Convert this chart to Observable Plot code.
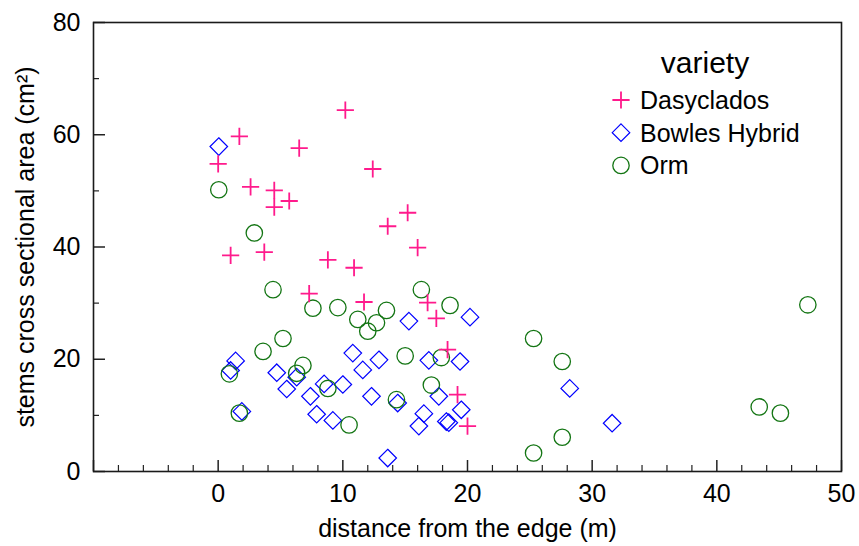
<!DOCTYPE html>
<html><head><meta charset="utf-8">
<script src="https://cdn.jsdelivr.net/npm/d3@7"></script>
<script src="https://cdn.jsdelivr.net/npm/@observablehq/plot@0.6"></script>
<style>
html,body{margin:0;padding:0;background:#fff;}
#wrap{position:relative;width:859px;height:546px;}
#wrap svg{display:block;}
</style></head><body><div id="wrap"></div>
<script>
const varieties = ["Dasyclados", "Bowles Hybrid", "Orm"];

const dasyX = [0.0, 1.7, 1.0, 2.6, 3.7, 4.5, 4.5, 5.7, 6.5, 10.2, 12.4, 7.3, 8.8, 10.9, 11.7, 13.6, 15.2, 16.0, 16.8, 17.5, 18.4, 19.2, 20.0];
const dasyY = [54.8, 59.7, 38.5, 50.7, 39.1, 50.1, 47.1, 48.2, 57.6, 64.4, 53.9, 31.7, 37.7, 36.3, 30.2, 43.7, 46.1, 39.9, 30.1, 27.3, 21.7, 13.7, 8.1];

const bowlesX = [0.05, 1.4, 1.0, 1.9, 4.7, 5.5, 6.3, 7.4, 7.9, 8.5, 9.2, 10.0, 10.8, 11.6, 12.3, 12.9, 13.6, 14.4, 15.3, 16.5, 16.1, 16.9, 17.7, 18.3, 18.5, 19.4, 19.5, 20.2, 28.2, 31.6];
const bowlesY = [57.9, 19.7, 18.0, 10.7, 17.6, 14.7, 16.8, 13.4, 10.2, 15.6, 9.1, 15.5, 21.1, 18.1, 13.4, 19.9, 2.4, 12.2, 26.8, 10.3, 8.1, 19.8, 13.4, 8.9, 8.7, 19.6, 11.0, 27.5, 14.8, 8.6];

const ormX = [0.05, 2.9, 4.4, 7.6, 9.6, 11.2, 12.7, 12.0, 13.5, 16.3, 18.6, 5.2, 3.6, 0.9, 6.8, 6.3, 8.8, 1.7, 10.5, 15.0, 17.9, 17.1, 14.3, 25.3, 27.6, 27.6, 25.3, 43.4, 45.1, 47.3];
const ormY = [50.2, 42.5, 32.4, 29.1, 29.2, 27.1, 26.5, 25.0, 28.7, 32.4, 29.6, 23.7, 21.4, 17.4, 18.9, 17.5, 14.8, 10.4, 8.3, 20.6, 20.3, 15.4, 12.8, 23.7, 19.6, 6.1, 3.3, 11.5, 10.4, 29.7];

const xLabels = [0, 10, 20, 30, 40, 50];
const yLabels = [0, 20, 40, 60, 80];
const xTitle = "distance from the edge (m)";
const yTitle = "stems cross sectional area (cm²)";
const legendTitle = "variety";

const FONT = "'Liberation Sans', Arial, Helvetica, sans-serif";
const W = 859, H = 546, mL = 93, mR = 18, mT = 22, mB = 75;
const innerW = W - mL - mR, innerH = H - mT - mB;

const colors = {"Dasyclados": "#ff1a8c", "Bowles Hybrid": "#0000ff", "Orm": "#137513"};
const symbols = {"Dasyclados": "plus", "Bowles Hybrid": "diamond2", "Orm": "circle"};
const radii = {"Dasyclados": 5.6, "Bowles Hybrid": 7.9, "Orm": 8.2};
const widths = {"Dasyclados": 1.8, "Bowles Hybrid": 1.2, "Orm": 1.3};

const rows = (xs, ys, v) => xs.map((x, i) => ({x, y: ys[i], variety: v}));
const dasy = rows(dasyX, dasyY, varieties[0]);
const bowles = rows(bowlesX, bowlesY, varieties[1]);
const orm = rows(ormX, ormY, varieties[2]);

const xMajor = [-10, 0, 10, 20, 30, 40, 50];
const xMinor = d3.range(-10, 51, 2).filter(v => v % 10 !== 0);
const yMajor = [0, 20, 40, 60, 80];
const yMinor = [10, 30, 50, 70];

const dotMark = (data, v) => Plot.dot(data, {
  x: "x", y: "y", symbol: symbols[v], r: radii[v],
  stroke: colors[v], strokeWidth: widths[v], fill: "none"
});

const chart = Plot.plot({
  width: W, height: H,
  marginLeft: mL, marginRight: mR, marginTop: mT, marginBottom: mB,
  style: {fontFamily: FONT, fontSize: "25px", color: "#000", background: "#fff"},
  x: {domain: [-10, 50]},
  y: {domain: [0, 80]},
  marks: [
    Plot.tickX(xMinor, {x: d => d, insetTop: innerH - 6, stroke: "#222", strokeWidth: 1.2}),
    Plot.tickX(xMajor, {x: d => d, insetTop: innerH - 11, stroke: "#222", strokeWidth: 1.5}),
    Plot.tickY(yMinor, {y: d => d, insetRight: innerW - 6, stroke: "#222", strokeWidth: 1.2}),
    Plot.tickY(yMajor, {y: d => d, insetRight: innerW - 12, stroke: "#222", strokeWidth: 1.5}),
    Plot.frame({stroke: "#1a1a1a", strokeWidth: 1.6}),
    Plot.axisX(xLabels, {tickSize: 0, tickPadding: 13, label: null, fontSize: 25}),
    Plot.axisY(yLabels, {tickSize: 0, tickPadding: 13, label: null, fontSize: 25}),
    Plot.text([xTitle], {text: d => d, frameAnchor: "bottom", dy: 57, lineAnchor: "middle", textAnchor: "middle", fontSize: 25}),
    Plot.text([yTitle], {text: d => d, frameAnchor: "left", dx: -68, rotate: -90, textAnchor: "middle", lineAnchor: "middle", fontSize: 25}),
    dotMark(bowles, varieties[1]),
    dotMark(orm, varieties[2]),
    dotMark(dasy, varieties[0])
  ]
});
const wrap = document.getElementById("wrap");
wrap.appendChild(chart);

// legend overlay
const svg = d3.select("#wrap").append("svg")
  .attr("width", W).attr("height", H)
  .style("position", "absolute").style("left", "0px").style("top", "0px")
  .style("pointer-events", "none")
  .attr("font-family", FONT);
svg.append("text").attr("x", 705).attr("y", 73).attr("text-anchor", "middle")
  .attr("font-size", 30).attr("fill", "#000").text(legendTitle);
const d3sym = {plus: d3.symbolPlus, diamond2: d3.symbolDiamond2, circle: d3.symbolCircle};
varieties.forEach((v, i) => {
  const cy = 100 + i * 32.7;
  const r = radii[v];
  svg.append("path")
    .attr("transform", `translate(621,${cy})`)
    .attr("d", d3.symbol().type(d3sym[symbols[v]]).size(Math.PI * r * r)())
    .attr("fill", "none").attr("stroke", colors[v]).attr("stroke-width", widths[v]);
  svg.append("text").attr("x", 640).attr("y", cy + 9)
    .attr("font-size", 25).attr("fill", "#000").text(v);
});
</script>
</body></html>
